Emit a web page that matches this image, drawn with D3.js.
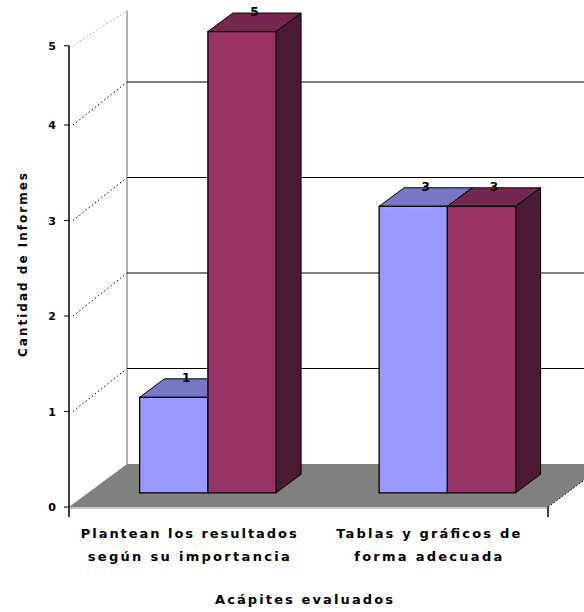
<!DOCTYPE html>
<html>
<head>
<meta charset="utf-8">
<script src="https://cdn.jsdelivr.net/npm/d3@7"></script>
<style>
  body { margin: 0; background: #fff; }
  text { font-family: "DejaVu Sans", Verdana, sans-serif; }
</style>
</head>
<body>
<svg id="chart"></svg>
<script>
const width = 584
const height = 612

// data
const categories = [
  ["Plantean los resultados", "según su importancia"],
  ["Tablas y gráficos de", "forma adecuada"]
]
const seriesNames = ["Serie 1", "Serie 2"]
const values = [
  [1, 5],
  [3, 3]
]
const yTicks = [0, 1, 2, 3, 4, 5]
const yTitle = "Cantidad de Informes"
const xTitle = "Acápites evaluados"

// layout of the oblique 3D box
const x0 = 69, x1 = 548, yBase = 507, unit = 95.5, yMax = 4.83
const DX = 58, DY = -43             // full depth offset
const barT0 = 0.33, barT1 = 0.76    // bar depth inside the box
const fills = ["#9999ff", "#993366"]
const tops = ["#7777c6", "#74284f"]
const sides = ["#555599", "#4a1a33"]

const P = (x, y, t) => [x + DX * t, y + DY * t]
const pts = arr => arr.map(p => p.join(",")).join(" ")

const svg = d3.select("#chart").attr("width", width).attr("height", height)

const y = d3.scaleLinear().domain([0, yMax]).range([yBase, yBase - unit * yMax]).clamp(true)
const catIdx = d3.range(categories.length)
const x = d3.scaleBand().domain(catIdx).range([x0, x1]).paddingInner(0.43).paddingOuter(0.215)
const xs = d3.scaleBand().domain(d3.range(seriesNames.length)).range([0, x.bandwidth()])

// left wall: dotted lines from the axis to the back wall
svg.selectAll(".wallline")
  .data(yTicks.slice(1))
  .join("line")
  .attr("x1", x0 + 4).attr("y1", d => y(d))
  .attr("x2", d => P(x0, y(d), 1)[0]).attr("y2", d => P(x0, y(d), 1)[1] + (d === yTicks[yTicks.length - 1] ? 8 : 0))
  .attr("stroke", d => d === yTicks[yTicks.length - 1] ? "#999" : "#000")
  .attr("stroke-dasharray", "1.5,2.5")

// back wall edge and gridlines
svg.append("line")
  .attr("x1", P(x0, y(0), 1)[0]).attr("y1", P(x0, y(0), 1)[1])
  .attr("x2", P(x0, y(yMax), 1)[0]).attr("y2", P(x0, y(yMax), 1)[1] + 8)
  .attr("stroke", "#999").attr("stroke-width", 1.5)

svg.selectAll(".grid")
  .data(yTicks.filter(d => d > 0 && d < yMax))
  .join("line")
  .attr("x1", P(x0, 0, 1)[0]).attr("x2", P(x1, 0, 1)[0])
  .attr("y1", d => P(x0, y(d), 1)[1]).attr("y2", d => P(x0, y(d), 1)[1])
  .attr("stroke", "#000")

// floor
svg.append("polygon")
  .attr("points", pts([P(x0, yBase, 0), P(x1, yBase, 0), P(x1, yBase, 1), P(x0, yBase, 1)]))
  .attr("fill", "#808080")
svg.append("line")
  .attr("x1", x0).attr("x2", x1).attr("y1", yBase + 1).attr("y2", yBase + 1)
  .attr("stroke", "#c8c8c8").attr("stroke-width", 2)
svg.append("line")
  .attr("x1", x1).attr("y1", yBase)
  .attr("x2", P(x1, yBase, 1)[0]).attr("y2", P(x1, yBase, 1)[1])
  .attr("stroke", "#000").attr("stroke-dasharray", "1.5,2")

// bars
const bars = []
catIdx.forEach(c => values[c].forEach((v, s) => bars.push({ c, s, v })))

const bar = svg.selectAll(".bar")
  .data(bars)
  .join("g")
  .classed("bar", true)

bar.each(function (d) {
  const g = d3.select(this)
  const bx0 = x(d.c) + xs(d.s), bx1 = bx0 + xs.bandwidth()
  const yt = y(d.v), yb = y(0)
  g.append("polygon") // top
    .attr("points", pts([P(bx0, yt, barT0), P(bx1, yt, barT0), P(bx1, yt, barT1), P(bx0, yt, barT1)]))
    .attr("fill", tops[d.s]).attr("stroke", "#000").attr("stroke-width", 1)
  g.append("polygon") // side
    .attr("points", pts([P(bx1, yt, barT0), P(bx1, yb, barT0), P(bx1, yb, barT1), P(bx1, yt, barT1)]))
    .attr("fill", sides[d.s]).attr("stroke", "#000").attr("stroke-width", 1)
  g.append("polygon") // front
    .attr("points", pts([P(bx0, yt, barT0), P(bx1, yt, barT0), P(bx1, yb, barT0), P(bx0, yb, barT0)]))
    .attr("fill", fills[d.s]).attr("stroke", "#000").attr("stroke-width", 1.3)
  const tm = (barT0 + barT1) / 2
  const lp = P((bx0 + bx1) / 2, yt, tm)
  g.append("text")
    .attr("x", lp[0]).attr("y", lp[1] - 6)
    .attr("text-anchor", "middle")
    .style("font-size", "12px").style("font-weight", "bold")
    .text(d.v)
})

// value axis
svg.append("line")
  .attr("x1", x0).attr("x2", x0).attr("y1", y(yMax)).attr("y2", yBase + 10)
  .attr("stroke", "#000").attr("stroke-width", 1.5)
svg.selectAll(".ytick")
  .data(yTicks)
  .join("line")
  .attr("x1", x0 - 5).attr("x2", x0)
  .attr("y1", d => y(d)).attr("y2", d => y(d))
  .attr("stroke", "#000")
svg.selectAll(".ylab")
  .data(yTicks)
  .join("text")
  .attr("x", 52).attr("y", d => y(d) + 4)
  .attr("text-anchor", "middle")
  .style("font-size", "11px").style("font-weight", "bold")
  .text(d => d)

// category axis tick at the right end
svg.append("line")
  .attr("x1", x1).attr("x2", x1).attr("y1", yBase).attr("y2", yBase + 10)
  .attr("stroke", "#000").attr("stroke-width", 1.5)

const lineLens = [[216, 202], [184, 148]]
catIdx.forEach(c => {
  categories[c].forEach((line, i) => {
    svg.append("text")
      .attr("x", x(c) + x.bandwidth() / 2)
      .attr("y", 538 + i * 23)
      .attr("text-anchor", "middle")
      .attr("textLength", lineLens[c][i]).attr("lengthAdjust", "spacing")
      .style("font-size", "13px").style("font-weight", "bold")
      .text(line)
  })
})

// titles
svg.append("text")
  .attr("x", 304).attr("y", 604)
  .attr("text-anchor", "middle")
  .attr("textLength", 178).attr("lengthAdjust", "spacing")
  .style("font-size", "13px").style("font-weight", "bold")
  .text(xTitle)

svg.append("text")
  .attr("transform", "translate(27,265) rotate(-90)")
  .attr("text-anchor", "middle")
  .attr("textLength", 184).attr("lengthAdjust", "spacing")
  .style("font-size", "12px").style("font-weight", "bold")
  .text(yTitle)
</script>
</body>
</html>
